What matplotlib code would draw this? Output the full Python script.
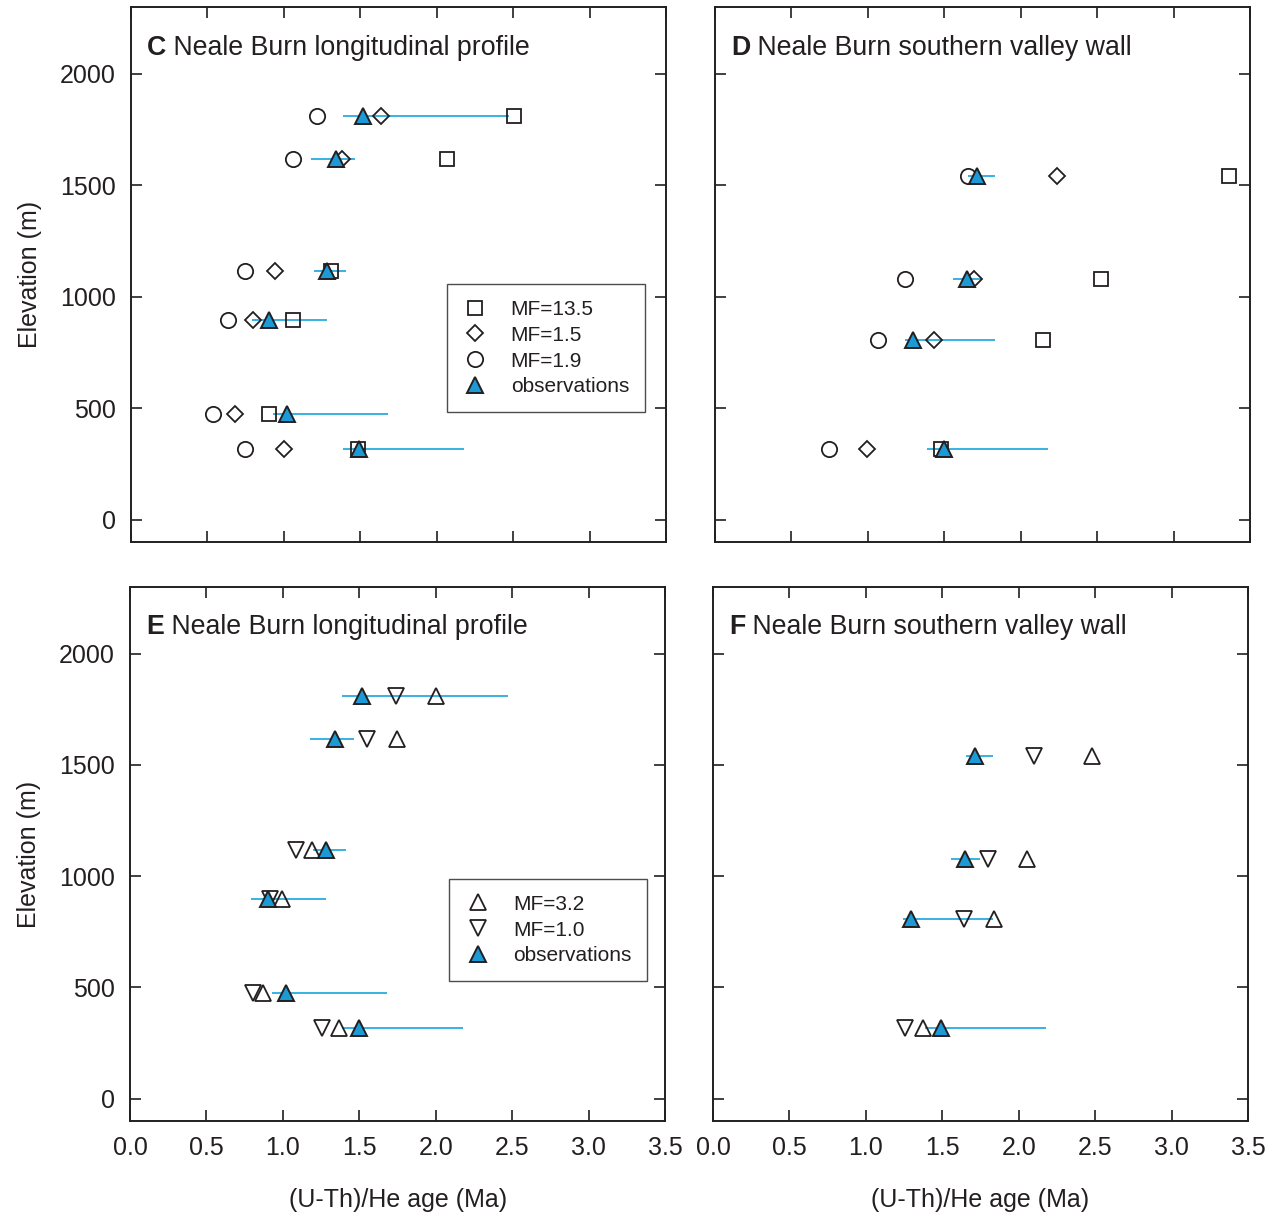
import matplotlib
matplotlib.use('Agg')
import matplotlib.pyplot as plt

plt.rcParams['font.family'] = ['Liberation Sans', 'DejaVu Sans']

# longitudinal profile (panels C and E)
long_elev = [1811, 1618, 1116, 896, 474, 317]
long_obs = [1.515, 1.34, 1.28, 0.905, 1.02, 1.495]
long_lo = [1.387, 1.18, 1.20, 0.79, 0.93, 1.387]
long_hi = [2.47, 1.465, 1.41, 1.28, 1.68, 2.18]
long_mf135 = [2.506, 2.07, 1.31, 1.058, 0.903, 1.483]
long_mf15 = [1.636, 1.38, 0.942, 0.796, 0.68, 0.999]
long_mf19 = [1.217, 1.06, 0.746, 0.633, 0.537, 0.746]
long_mf32 = [2.0, 1.748, 1.19, 0.994, 0.87, 1.37]
long_mf10 = [1.737, 1.547, 1.086, 0.918, 0.804, 1.256]

# southern valley wall (panels D and F)
wall_elev = [1540, 1078, 808, 317]
wall_obs = [1.715, 1.648, 1.295, 1.495]
wall_lo = [1.655, 1.557, 1.245, 1.387]
wall_hi = [1.83, 1.745, 1.83, 2.18]
wall_mf135 = [3.36, 2.523, 2.144, 1.478]
wall_mf15 = [2.24, 1.694, 1.433, 0.994]
wall_mf19 = [1.653, 1.243, 1.064, 0.746]
wall_mf32 = [2.48, 2.054, 1.838, 1.372]
wall_mf10 = [2.1, 1.8, 1.642, 1.256]

xticks = [0.0, 0.5, 1.0, 1.5, 2.0, 2.5, 3.0, 3.5]
yticks = [0, 500, 1000, 1500, 2000]

ink = '#231f20'
bar_col = '#29abe2'
obs_col = '#1b9ad6'
fs = 18


def style_axes(ax, xlabels, ylabels):
    ax.set_xlim(0, 3.5)
    ax.set_ylim(-100, 2300)
    ax.set_xticks(xticks)
    ax.set_yticks(yticks)
    ax.tick_params(direction='in', length=8, width=1.2, color=ink,
                   top=True, right=True, labelsize=fs, labelcolor=ink, pad=11)
    if xlabels:
        ax.set_xticklabels(['%.1f' % t for t in xticks])
        ax.set_xlabel('(U-Th)/He age (Ma)', fontsize=fs, color=ink, labelpad=20)
    else:
        ax.set_xticklabels([])
    if ylabels:
        ax.set_ylabel('Elevation (m)', fontsize=fs, color=ink, labelpad=13)
    else:
        ax.set_yticklabels([])
    for s in ax.spines.values():
        s.set_color(ink)
        s.set_linewidth(1.4)


def panel_title(ax, letter, text):
    t = ax.text(0.03, 0.9, letter, transform=ax.transAxes, fontsize=fs + 1.3,
                fontweight='bold', color=ink, ha='left', va='bottom')
    ax.annotate(' ' + text, xy=(1, 0), xycoords=t, fontsize=fs + 1.3,
                color=ink, ha='left', va='bottom')


def draw_obs(ax, elev, obs, lo, hi):
    ax.hlines(elev, lo, hi, color=bar_col, lw=1.3, zorder=2)
    h, = ax.plot(obs, elev, ls='none', marker='^', ms=12, mfc=obs_col,
                 mec=ink, mew=1.4, zorder=4, label='observations')
    return h


def draw_model(ax, x, elev, marker, ms, label):
    h, = ax.plot(x, elev, ls='none', marker=marker, ms=ms, mfc='none',
                 mec=ink, mew=1.3, zorder=3, label=label)
    return h


def add_legend(ax, handles, anchor):
    leg = ax.legend(handles=handles, loc='upper left', bbox_to_anchor=anchor,
                    borderaxespad=0, fontsize=15, frameon=True, fancybox=False,
                    edgecolor=ink, handlelength=1.2, handletextpad=1.1,
                    labelspacing=0.33, borderpad=0.75)
    leg.get_frame().set_linewidth(1.0)
    for txt in leg.get_texts():
        txt.set_color(ink)
    return leg


fig = plt.figure(figsize=(12.8, 12.17), dpi=100)
axC = fig.add_axes([0.1023, 0.5546, 0.418, 0.4396])
axD = fig.add_axes([0.5586, 0.5546, 0.418, 0.4396])
axE = fig.add_axes([0.1016, 0.0789, 0.418, 0.4388])
axF = fig.add_axes([0.557, 0.0789, 0.418, 0.4388])

# C
hs = draw_model(axC, long_mf135, long_elev, 's', 10, 'MF=13.5')
hd = draw_model(axC, long_mf15, long_elev, 'D', 8.5, 'MF=1.5')
hc = draw_model(axC, long_mf19, long_elev, 'o', 11, 'MF=1.9')
ho = draw_obs(axC, long_elev, long_obs, long_lo, long_hi)
style_axes(axC, False, True)
panel_title(axC, 'C', 'Neale Burn longitudinal profile')
add_legend(axC, [hs, hd, hc, ho], (0.591, 0.482))

# D
draw_model(axD, wall_mf135, wall_elev, 's', 10, 'MF=13.5')
draw_model(axD, wall_mf15, wall_elev, 'D', 8.5, 'MF=1.5')
draw_model(axD, wall_mf19, wall_elev, 'o', 11, 'MF=1.9')
draw_obs(axD, wall_elev, wall_obs, wall_lo, wall_hi)
style_axes(axD, False, False)
panel_title(axD, 'D', 'Neale Burn southern valley wall')

# E
hu = draw_model(axE, long_mf32, long_elev, '^', 12, 'MF=3.2')
hv = draw_model(axE, long_mf10, long_elev, 'v', 12, 'MF=1.0')
ho2 = draw_obs(axE, long_elev, long_obs, long_lo, long_hi)
style_axes(axE, True, True)
panel_title(axE, 'E', 'Neale Burn longitudinal profile')
add_legend(axE, [hu, hv, ho2], (0.597, 0.453))

# F
draw_model(axF, wall_mf32, wall_elev, '^', 12, 'MF=3.2')
draw_model(axF, wall_mf10, wall_elev, 'v', 12, 'MF=1.0')
draw_obs(axF, wall_elev, wall_obs, wall_lo, wall_hi)
style_axes(axF, True, False)
panel_title(axF, 'F', 'Neale Burn southern valley wall')

fig.savefig('out.png', dpi=100)
